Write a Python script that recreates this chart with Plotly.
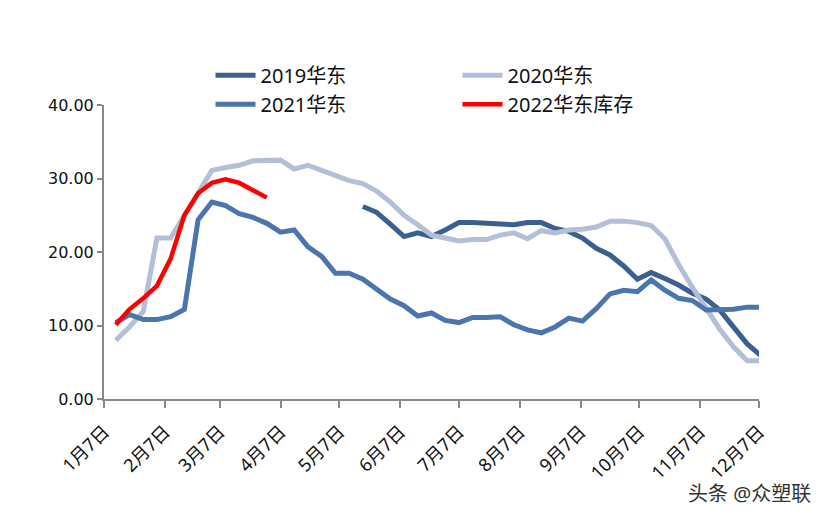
import plotly.graph_objects as go
import pandas as pd

weeks = pd.date_range("2021-01-13", periods=48, freq="7D")

v2019 = [None]*18 + [26.2, 25.4, 23.8, 22.1, 22.6, 22.1, 23.0, 24.0, 24.0, 23.9,
                     23.8, 23.7, 24.0, 24.0, 23.2, 22.8, 21.9, 20.5, 19.6, 18.1,
                     16.3, 17.2, 16.4, 15.5, 14.4, 13.6, 12.1, 9.7, 7.5, 5.9]
v2020 = [8.0, 9.8, 11.9, 21.9, 21.9, 25.0, 28.3, 31.1, 31.5, 31.8,
         32.4, 32.5, 32.5, 31.3, 31.8, 31.1, 30.4, 29.7, 29.3, 28.3,
         26.8, 25.0, 23.7, 22.3, 21.9, 21.5, 21.7, 21.7, 22.3, 22.6,
         21.8, 22.9, 22.6, 23.0, 23.1, 23.4, 24.2, 24.2, 24.0, 23.6,
         21.8, 18.3, 15.2, 12.3, 9.5, 7.1, 5.2, 5.2]
v2021 = [10.4, 11.5, 10.8, 10.8, 11.2, 12.2, 24.4, 26.8, 26.3, 25.2,
         24.7, 23.9, 22.7, 23.0, 20.7, 19.4, 17.1, 17.1, 16.3, 15.0,
         13.6, 12.7, 11.3, 11.7, 10.7, 10.4, 11.1, 11.1, 11.2, 10.1,
         9.4, 9.0, 9.8, 11.0, 10.6, 12.3, 14.3, 14.8, 14.6, 16.2,
         14.8, 13.7, 13.4, 12.1, 12.2, 12.2, 12.5, 12.5]
v2022 = [10.1, 12.2, 13.7, 15.4, 19.1, 25.0, 28.0, 29.4, 29.9, 29.4, 28.4, 27.4]

names = ["2019华东", "2020华东", "2021华东", "2022华东库存"]
tick_dates = [f"2021-{m:02d}-07" for m in range(1, 13)]
tick_labels = [f"{m}月7日" for m in range(1, 13)]
y_ticks = [0, 10, 20, 30, 40]

font_fam = "Noto Sans, Noto Sans CJK SC, sans-serif"
num_fam = "DejaVu Sans, Noto Sans CJK SC, sans-serif"

fig = go.Figure()
fig.add_trace(go.Scatter(x=weeks, y=v2019, name=names[0], mode="lines",
                         line=dict(color="#3b5f8e", width=5)))
fig.add_trace(go.Scatter(x=weeks, y=v2020, name=names[1], mode="lines",
                         line=dict(color="#b3bfd6", width=5)))
fig.add_trace(go.Scatter(x=weeks, y=v2021, name=names[2], mode="lines",
                         line=dict(color="#4a76ad", width=5)))
fig.add_trace(go.Scatter(x=weeks[:len(v2022)], y=v2022, name=names[3], mode="lines",
                         line=dict(color="#ff0000", width=4.5)))

fig.update_layout(
    width=833, height=519,
    margin=dict(l=96, r=82, t=97, b=128, autoexpand=False),
    paper_bgcolor="white", plot_bgcolor="white",
    font=dict(family=font_fam, size=18, color="#111111"),
    showlegend=True,
    legend=dict(orientation="h", x=0.1626, y=0.936, xanchor="left", yanchor="bottom",
                entrywidth=192, entrywidthmode="pixels", itemwidth=40,
                font=dict(size=20, family=font_fam, color="#111111"),
                bgcolor="rgba(0,0,0,0)", traceorder="normal"),
    xaxis=dict(type="date", range=["2021-01-07", "2021-12-07"],
               tickmode="array", tickvals=tick_dates, ticktext=tick_labels,
               tickangle=-45, showgrid=False, zeroline=False, automargin=False,
               showline=True, linecolor="#888888", linewidth=2,
               ticks="outside", ticklen=7, tickwidth=2, tickcolor="#888888",
               ticklabelstandoff=6,
               tickfont=dict(size=18, family=font_fam, color="#111111")),
    yaxis=dict(range=[0, 40], tickmode="array", tickvals=y_ticks,
               tickformat=".2f", showgrid=False, zeroline=False, automargin=False,
               showline=True, linecolor="#888888", linewidth=2,
               ticks="outside", ticklen=5, tickwidth=2, tickcolor="#888888",
               tickfont=dict(size=16, family=num_fam, color="#111111")),
)

fig.add_annotation(text="头条 @众塑联", xref="paper", yref="paper",
                   x=0.985, y=-0.32, xanchor="center", yanchor="middle",
                   showarrow=False,
                   font=dict(size=20, color="#333333", family=font_fam))

fig.write_html("out.html")
